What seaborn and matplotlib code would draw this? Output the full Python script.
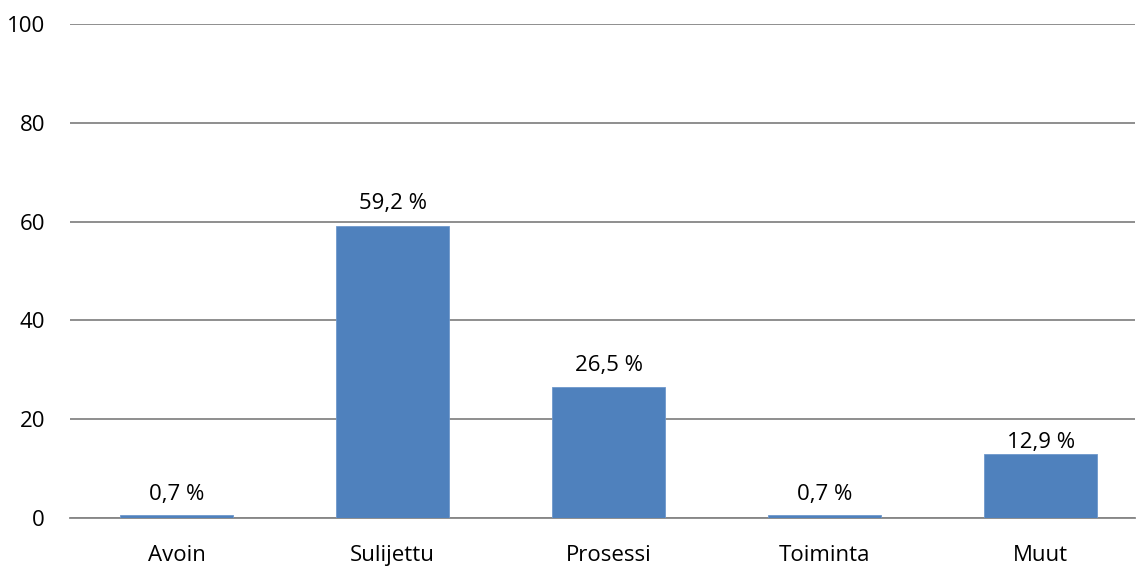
import matplotlib
matplotlib.use("Agg")
import matplotlib.pyplot as plt
import seaborn as sns
import pandas as pd

categories = ["Avoin", "Sulijettu", "Prosessi", "Toiminta", "Muut"]
values = [0.7, 59.2, 26.5, 0.7, 12.9]
yticks = [0, 20, 40, 60, 80, 100]

sns.set_theme(style="white")
plt.rcParams["font.family"] = ["Open Sans", "DejaVu Sans"]

df = pd.DataFrame({"kategoria": categories, "osuus": values})

fig = plt.figure(figsize=(11.36, 5.67), dpi=100)
ax = fig.add_axes([0.0616, 0.0864, 0.9375, 0.8713])

sns.barplot(data=df, x="kategoria", y="osuus", color="#4F81BD", width=0.525,
            saturation=1, ax=ax, zorder=3, edgecolor="#6E98CC", linewidth=0.6)

ax.set_xlim(-0.493, 4.437)
ax.set_ylim(0, 100)
ax.set_yticks(yticks)
ax.set_yticklabels([str(t) for t in yticks])
ax.yaxis.grid(True, color="#868686", linewidth=1.3, zorder=0)
ax.xaxis.grid(False)
for side in ["top", "right", "left"]:
    ax.spines[side].set_visible(False)
ax.spines["bottom"].set_color("#868686")
ax.spines["bottom"].set_linewidth(1.3)
ax.tick_params(axis="both", length=0, labelsize=16, colors="#000000")
ax.tick_params(axis="y", pad=18)
ax.tick_params(axis="x", pad=19.5)
ax.set_xlabel("")
ax.set_ylabel("")

# value labels; the last one sits a little closer to its bar
label_pad = [7, 8, 8, 7, 1]
for patch, v, pad in zip(ax.patches, values, label_pad):
    x = patch.get_x() + patch.get_width() / 2
    ax.annotate(f"{v:.1f} %".replace(".", ","), xy=(x, patch.get_height()),
                xytext=(0, pad), textcoords="offset points",
                ha="center", va="bottom", fontsize=16, color="#000000")

fig.savefig("out.png", dpi=100)
